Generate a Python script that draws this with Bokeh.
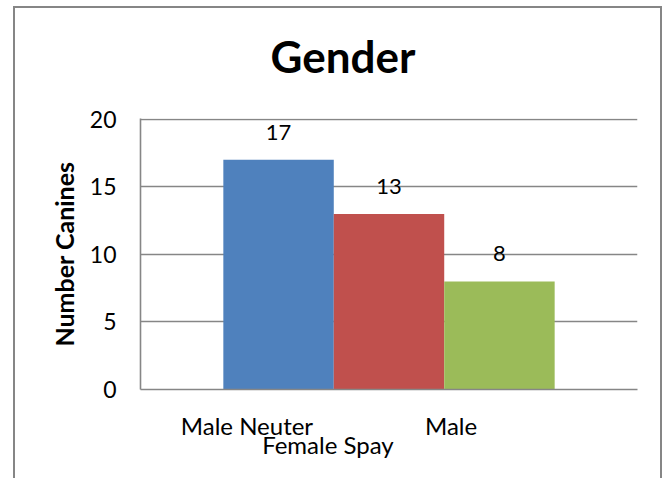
from bokeh.plotting import figure
from bokeh.models import ColumnDataSource, LabelSet, Range1d, FixedTicker, Title
from bokeh.core.properties import value
from bokeh.embed import file_html
from bokeh.resources import INLINE

categories = ["Male Neuter", "Female Spay", "Male"]
counts = [17, 13, 8]
colors = ["#4F81BD", "#C0504D", "#9BBB59"]
y_ticks = [0, 5, 10, 15, 20]

# horizontal shift of each category label from its bar centre (in category widths)
cat_label_shift = [-0.286, -0.553, -0.438]
# which labels sit on the second (staggered) row
cat_label_row2 = [False, True, False]

FONT = "Lato"
GRAY = "#868686"
PAD = 0.75  # category padding on each side

n = len(categories)
bar_x = [i + 0.5 for i in range(n)]
src = ColumnDataSource(dict(x=bar_x, cat=categories, n=counts, color=colors,
                            lbl=[str(v) for v in counts]))

W, H = 649, 472
p = figure(width=W, height=H, output_backend="svg", toolbar_location=None,
           x_range=Range1d(-PAD, n + PAD), y_range=Range1d(0, 20.06),
           min_border_left=125, min_border_right=27,
           min_border_top=110, min_border_bottom=91)

# outer chart border (left, top, right; bottom is cut off in the reference)
p.styles = {"margin-left": "13px", "margin-top": "6px",
            "border-left": f"2px solid {GRAY}", "border-top": f"2px solid {GRAY}",
            "border-right": f"2px solid {GRAY}"}

p.vbar(x="x", top="n", width=1.0, color="color", line_color=None, source=src)

# spacer between title and plot area
p.add_layout(Title(text=" ", text_font_size="1px", standoff=11), "above")

# title
p.title.text = "Gender"
p.title.text_font = FONT
p.title.text_font_style = "bold"
p.title.text_font_size = "44px"
p.title.align = "left"
p.title.offset = 130
p.title.vertical_align = "top"
p.title.standoff = 41
p.title.text_color = "black"

p.outline_line_color = None
p.background_fill_color = "white"
p.border_fill_color = "white"

p.xgrid.grid_line_color = None
p.ygrid.grid_line_color = GRAY
p.ygrid.grid_line_width = 1.6
p.ygrid.level = "underlay"

p.yaxis.ticker = y_ticks
p.yaxis.axis_line_color = GRAY
p.yaxis.axis_line_width = 1.6
p.yaxis.major_tick_line_color = None
p.yaxis.minor_tick_line_color = None
p.yaxis.major_tick_out = 0
p.yaxis.major_tick_in = 0
p.yaxis.major_label_standoff = 24
p.yaxis.major_label_text_font = FONT
p.yaxis.major_label_text_font_size = "23px"
p.yaxis.major_label_text_color = "black"
p.yaxis.axis_label = "Number Canines"
p.yaxis.axis_label_text_font = FONT
p.yaxis.axis_label_text_font_style = "bold"
p.yaxis.axis_label_text_font_size = "25px"
p.yaxis.axis_label_text_color = "black"
p.yaxis.axis_label_standoff = 8

# x axis: staggered category labels, Excel style
pos = [bar_x[i] + s for i, s in enumerate(cat_label_shift)]
overrides = {pos[i]: ("\n" + c if cat_label_row2[i] else c) for i, c in enumerate(categories)}
xa = p.xaxis[0]
xa.ticker = FixedTicker(ticks=pos)
xa.major_label_overrides = overrides
xa.axis_line_color = GRAY
xa.axis_line_width = 1.6
xa.major_tick_line_color = None
xa.minor_tick_line_color = None
xa.major_tick_out = 0
xa.major_tick_in = 0
xa.major_label_standoff = 21
xa.major_label_text_font = FONT
xa.major_label_text_font_size = "24px"
xa.major_label_text_line_height = 0.66
xa.major_label_text_color = "black"

# value labels
vals = LabelSet(x="x", y="n", text="lbl", source=src, y_offset=20,
                text_align="center", text_baseline="alphabetic",
                text_font=value(FONT), text_font_size=value("22px"), text_color="black")
p.add_layout(vals)

open("out.html", "w").write(file_html(p, INLINE))
